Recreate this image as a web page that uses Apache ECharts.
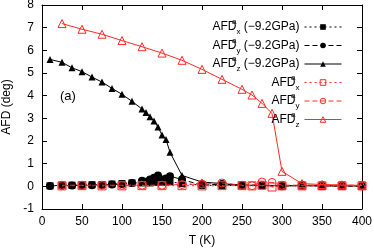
<!DOCTYPE html>
<html><head><meta charset="utf-8">
<script src="https://cdn.jsdelivr.net/npm/echarts@6/dist/echarts.min.js"></script>
<style>html,body{margin:0;padding:0;background:#fff}#c{width:374px;height:249px}</style>
</head><body><div id="c"></div>
<script>
// Temperatures (K)
var tempsP = [10, 25, 37.5, 50, 62.5, 75, 87.5, 100, 112.5, 125, 130, 135, 140, 145, 150, 155, 160, 175, 200, 225, 250, 275, 300, 325, 350, 375, 400];
var afdxP = [0.02, 0.05, 0.05, 0.06, 0.07, 0.08, 0.1, 0.12, 0.15, 0.15, 0.17, 0.15, 0.18, 0.2, 0.18, 0.2, 0.2, 0.12, 0.05, 0.04, 0.03, 0.03, 0.02, 0.02, 0.02, 0.02, 0.02];
var afdyP = [0.02, 0.03, 0.04, 0.04, 0.05, 0.06, 0.08, 0.1, 0.15, 0.25, 0.2, 0.3, 0.38, 0.48, 0.3, 0.35, 0.45, 0.3, 0.05, 0.1, 0.05, 0.05, 0.0, 0.05, 0.02, 0.02, 0.0];
var afdzP = [5.6, 5.47, 5.23, 5.06, 4.82, 4.6, 4.32, 4.06, 3.75, 3.41, 3.26, 3.07, 2.88, 2.62, 2.26, 2.07, 1.5, 0.48, 0.19, 0.12, 0.05, 0.05, 0.03, 0.03, 0.02, 0.02, 0.02];

var temps0 = [25, 50, 75, 100, 125, 150, 175, 200, 225, 250, 262.5, 275, 287.5, 300, 325, 350, 375, 400];
var afdx0 = [0.02, 0.03, 0.02, 0.02, 0.03, 0.03, 0.03, 0.02, 0.03, 0.03, 0.02, 0.05, -0.03, 0.02, 0.02, 0.02, 0.02, 0.02];
var afdy0 = [0.05, 0.05, 0.05, 0.05, 0.05, 0.05, 0.08, 0.1, 0.15, 0.05, 0.03, 0.19, 0.17, 0.05, 0.05, 0.05, 0.05, 0.05];
var afdz0 = [7.18, 6.93, 6.71, 6.43, 6.16, 5.88, 5.56, 5.16, 4.72, 4.28, 4.03, 3.66, 3.22, 0.66, 0.12, 0.08, 0.06, 0.04];

var xTicks = {min: 0, max: 400, interval: 50};
var yTicks = {min: -1, max: 8, interval: 1};

var seriesNames = ['AFDx_P', 'AFDy_P', 'AFDz_P', 'AFDx', 'AFDy', 'AFDz'];
var legendSub = ['x', 'y', 'z', 'x', 'y', 'z'];
var legendSuffix = [' (\u22129.2GPa)', ' (\u22129.2GPa)', ' (\u22129.2GPa)', '', '', ''];

function zip(xs, ys) { return xs.map(function (x, i) { return [x, ys[i]]; }); }

var RED = '#ff2a2a';
var FONT = 'Liberation Sans, Arial, sans-serif';

function mkSeries(i, data, color, dash, symbol, size, hollow) {
  return {
    name: seriesNames[i], type: 'line', data: data,
    symbol: symbol, symbolSize: size,
    lineStyle: {color: color, width: 1, type: dash},
    itemStyle: hollow ? {color: 'transparent', borderColor: color, borderWidth: 1} : {color: color, borderWidth: 0},
    emphasis: {disabled: true}, animation: false, z: hollow ? 3 : 2
  };
}

var chart = echarts.init(document.getElementById('c'), null, {renderer: 'canvas'});
var axisCommon = {
  axisLine: {show: true, onZero: false, lineStyle: {color: '#000', width: 1}},
  axisTick: {show: true, inside: true, length: 5, lineStyle: {color: '#000'}},
  splitLine: {show: false}
};
chart.setOption({
  backgroundColor: '#fff',
  textStyle: {fontFamily: FONT},
  grid: {left: 42, right: 12, top: 5, bottom: 40, outerBoundsMode: 'none', containLabel: false},
  xAxis: [
    Object.assign({type: 'value', position: 'bottom', min: xTicks.min, max: xTicks.max, interval: xTicks.interval,
      name: 'T (K)', nameLocation: 'middle', nameGap: 26,
      nameTextStyle: {fontSize: 12, color: '#000', fontFamily: FONT},
      axisLabel: {fontSize: 12, color: '#000', margin: 7, fontFamily: FONT}}, axisCommon),
    Object.assign({type: 'value', position: 'top', min: xTicks.min, max: xTicks.max, interval: xTicks.interval,
      axisLabel: {show: false}}, axisCommon)
  ],
  yAxis: [
    Object.assign({type: 'value', position: 'left', min: yTicks.min, max: yTicks.max, interval: yTicks.interval,
      name: 'AFD (deg)', nameLocation: 'middle', nameGap: 27,
      nameTextStyle: {fontSize: 12, color: '#000', fontFamily: FONT},
      axisLabel: {fontSize: 12, color: '#000', margin: 8, fontFamily: FONT}}, axisCommon),
    Object.assign({type: 'value', position: 'right', min: yTicks.min, max: yTicks.max, interval: yTicks.interval,
      axisLabel: {show: false}}, axisCommon)
  ],
  legend: {
    orient: 'vertical', right: 27, top: 13, align: 'right',
    itemWidth: 37, itemHeight: 7, itemGap: 0.5,
    data: seriesNames,
    lineStyle: {width: 1},
    itemStyle: {borderWidth: 1},
    formatter: function (name) {
      var i = seriesNames.indexOf(name);
      return '{m|AFD}{sup|a}{sub|' + legendSub[i] + '}' + (legendSuffix[i] ? '{m|' + legendSuffix[i] + '}' : '');
    },
    textStyle: {
      color: '#000', fontFamily: FONT, fontSize: 12,
      rich: {
        m: {fontSize: 12, lineHeight: 18, color: '#000', fontFamily: FONT},
        sup: {fontSize: 8, lineHeight: 8, verticalAlign: 'top', width: 0.01, color: '#000', fontFamily: FONT},
        sub: {fontSize: 8, lineHeight: 8, verticalAlign: 'bottom', color: '#000', fontFamily: FONT}
      }
    }
  },
  graphic: [{type: 'text', left: 60, top: 90, style: {text: '(a)', fontSize: 13, fill: '#000', fontFamily: FONT}}],
  series: [
    mkSeries(0, zip(tempsP, afdxP), '#000', [2, 3], 'rect', 7, false),
    mkSeries(1, zip(tempsP, afdyP), '#000', [5, 3], 'circle', 8, false),
    mkSeries(2, zip(tempsP, afdzP), '#000', 'solid', 'triangle', 7, false),
    mkSeries(3, zip(temps0, afdx0), RED, [2, 3], 'rect', 8, true),
    mkSeries(4, zip(temps0, afdy0), RED, [5, 3], 'circle', 8, true),
    mkSeries(5, zip(temps0, afdz0), RED, 'solid', 'triangle', 8, true)
  ]
});
</script></body></html>
